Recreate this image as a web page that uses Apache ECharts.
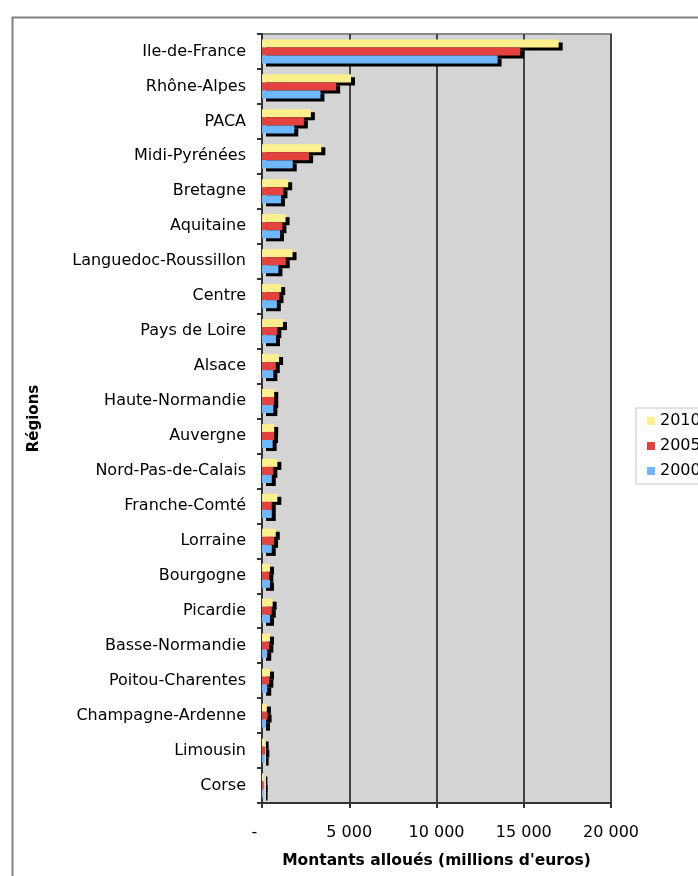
<!DOCTYPE html>
<html>
<head>
<meta charset="utf-8">
<title>Montants alloués par région</title>
<script src="https://cdn.jsdelivr.net/npm/echarts@6/dist/echarts.min.js"></script>
<style>
  html, body { margin: 0; padding: 0; background: #fff; }
  #main { width: 698px; height: 876px; }
</style>
</head>
<body>
<div id="main"></div>
<script>
  // régions, du haut vers le bas
  var categories = ['Ile-de-France', 'Rhône-Alpes', 'PACA', 'Midi-Pyrénées', 'Bretagne', 'Aquitaine',
    'Languedoc-Roussillon', 'Centre', 'Pays de Loire', 'Alsace', 'Haute-Normandie', 'Auvergne',
    'Nord-Pas-de-Calais', 'Franche-Comté', 'Lorraine', 'Bourgogne', 'Picardie', 'Basse-Normandie',
    'Poitou-Charentes', 'Champagne-Ardenne', 'Limousin', 'Corse']

  // montants (millions d'euros)
  var v2010 = [17000, 5100, 2800, 3400, 1500, 1350, 1750, 1100, 1200, 980, 700, 700, 880, 880, 790, 460, 610, 460, 460, 280, 150, 80]
  var v2005 = [14800, 4250, 2400, 2700, 1230, 1170, 1360, 1000, 880, 790, 700, 690, 650, 560, 690, 420, 560, 420, 420, 320, 190, 100]
  var v2000 = [13500, 3350, 1850, 1760, 1090, 1030, 940, 850, 800, 650, 650, 610, 560, 560, 560, 460, 460, 300, 300, 230, 150, 90]

  var years = ['2010', '2005', '2000']
  var xTicks = [0, 5000, 10000, 15000, 20000]

  var font = 'DejaVu Sans, Liberation Sans, sans-serif'

  // étiquettes de l'axe x : "-" pour zéro, séparateur de milliers = espace
  function fmt (v) {
    if (v === 0) return '-   '
    return String(v).replace(/\B(?=(\d{3})+(?!\d))/g, ' ')
  }

  function makeSeries (name, data, color) {
    return {
      name: name,
      type: 'bar',
      data: data,
      barGap: '0%',
      barCategoryGap: '31%',
      itemStyle: {
        color: color,
        shadowColor: '#000',     // ombre portée noire, comme dans Excel
        shadowBlur: 0,
        shadowOffsetX: 4,
        shadowOffsetY: 3
      }
    }
  }

  var chart = echarts.init(document.getElementById('main'))
  chart.setOption({
    animation: false,
    textStyle: { fontFamily: font },
    // cadre extérieur
    graphic: [{
      type: 'rect',
      left: 10,
      top: 15,
      z: -10,
      shape: { width: 720, height: 900 },
      style: { fill: 'none', stroke: '#808080', lineWidth: 2 }
    }],
    grid: {
      left: 262,
      right: 87,
      top: 34,
      bottom: 73,
      show: true,
      backgroundColor: '#d4d4d4',
      borderColor: '#8a8a8a',
      borderWidth: 2
    },
    legend: {
      orient: 'vertical',
      left: 636,
      top: 408,
      padding: [5, 10, 5, 11],
      itemWidth: 8,
      itemHeight: 8,
      itemGap: 9,
      icon: 'rect',
      borderColor: '#c4c4c4',
      borderWidth: 1,
      textStyle: { fontSize: 16, lineHeight: 16, color: '#000', fontFamily: font },
      data: years
    },
    xAxis: {
      type: 'value',
      min: xTicks[0],
      max: xTicks[xTicks.length - 1],
      interval: xTicks[1] - xTicks[0],
      name: 'Montants alloués (millions d\'euros)',
      nameLocation: 'middle',
      nameGap: 50,
      nameTextStyle: { fontSize: 15.5, fontWeight: 'bold', color: '#000', fontFamily: font },
      axisLine: { show: true, lineStyle: { color: '#333', width: 2 } },
      axisTick: { show: true, length: 5, lineStyle: { color: '#333', width: 2 } },
      axisLabel: { margin: 22, fontSize: 16, color: '#000', formatter: fmt },
      splitLine: { show: true, lineStyle: { color: '#444', width: 2 } }
    },
    yAxis: {
      type: 'category',
      inverse: true,
      data: categories,
      name: 'Régions',
      nameLocation: 'middle',
      nameRotate: 90,
      nameGap: 220,
      nameTextStyle: { fontSize: 15, fontWeight: 'bold', color: '#000', fontFamily: font },
      axisLine: { show: true, lineStyle: { color: '#333', width: 2 } },
      axisTick: { show: true, length: 5, lineStyle: { color: '#333', width: 2 } },
      axisLabel: { margin: 16, fontSize: 16, color: '#000' },
      splitLine: { show: false }
    },
    series: [
      makeSeries(years[0], v2010, '#fdf08c'),
      makeSeries(years[1], v2005, '#e4423f'),
      makeSeries(years[2], v2000, '#6fb7ff')
    ]
  })
</script>
</body>
</html>
